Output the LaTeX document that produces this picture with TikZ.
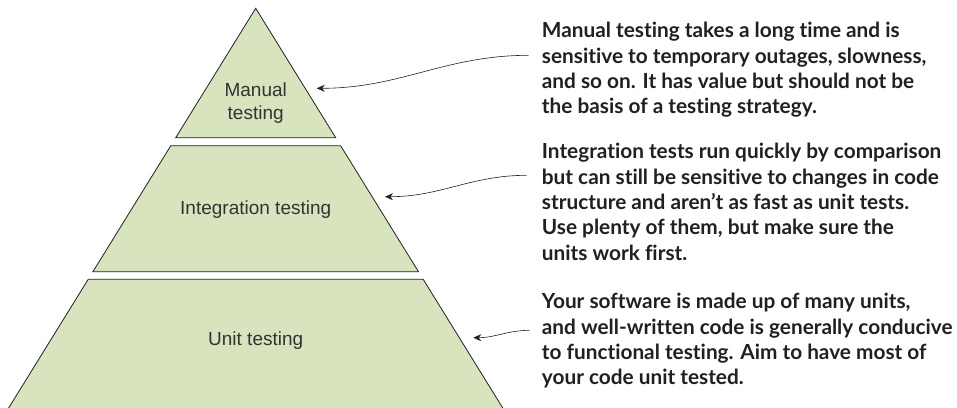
\documentclass[tikz,border=0pt]{standalone}
\usepackage{fontspec}
\setmainfont{Liberation Sans}
\newfontfamily\notefont[Ligatures=NoCommon]{Lato}
\usetikzlibrary{arrows.meta,calc}
\definecolor{pyrgreen}{HTML}{D7E4BD}
\definecolor{pyrline}{HTML}{231F20}
\definecolor{labelgrey}{HTML}{333333}
\tikzstyle{tier} = [fill=pyrgreen, draw=pyrline, line width=0.8pt]
\tikzstyle{tierlabel} = [text=labelgrey, font=\fontsize{19}{23.3}\selectfont, align=center]
\tikzstyle{note} = [font=\notefont\bfseries\fontsize{20.8}{25.3}\selectfont, text=pyrline, align=left, anchor=north west, inner sep=0pt]
\tikzstyle{callout} = [line width=0.6pt, draw=pyrline, -{Stealth[length=8pt,width=7pt]}]

\begin{document}
\begin{tikzpicture}[x=1pt,y=-1pt]
\clip (0,0) rectangle (957,407);
% the three tiers of the pyramid
\draw[tier] (255.7,8.3) -- (335.7,137.7) -- (175.7,137.7) -- cycle;
\draw[tier] (170.8,145.7) -- (340.6,145.7) -- (418.5,271.7) -- (92.9,271.7) -- cycle;
\draw[tier] (88.2,279.3) -- (423.2,279.3) -- (504,410) -- (7.4,410) -- cycle;

\node[tierlabel] (manual) at (255.7,103) {Manual\\testing};
\node[tierlabel] (integration) at (255.7,210) {Integration testing};
\node[tierlabel] (unit) at (255.7,341) {Unit testing};

% notes on the right
\node[note] (manualnote) at (541.7,22.3) {Manual testing takes a long time and is\\
sensitive to temporary outages, slowness,\\
and so on. It has value but should not be\\
the basis of a testing strategy.};
\node[note] (integrationnote) at (541.7,143.3) {Integration tests run quickly by comparison\\
but can still be sensitive to changes in code\\
structure and aren’t as fast as unit tests.\\
Use plenty of them, but make sure the\\
units work first.};
\node[note] (unitnote) at (541.7,293.3) {Your software is made up of many units,\\
and well-written code is generally conducive\\
to functional testing. Aim to have most of\\
your code unit tested.};

\coordinate (manualtail) at ([shift={(-13,33)}]manualnote.north west);
\coordinate (integrationtail) at ([shift={(-15,32)}]integrationnote.north west);
\coordinate (unittail) at ([shift={(-12,37)}]unitnote.north west);
\coordinate (manualtip) at (316.7,88.3);
\coordinate (integrationtip) at (385,196.7);
\coordinate (unittip) at (473.3,337.7);

\draw[callout] (manualtail) to[out=180,in=0] (manualtip);
\draw[callout] (integrationtail) to[out=180,in=0] (integrationtip);
\draw[callout] (unittail) to[out=180,in=0] (unittip);
\end{tikzpicture}
\end{document}
